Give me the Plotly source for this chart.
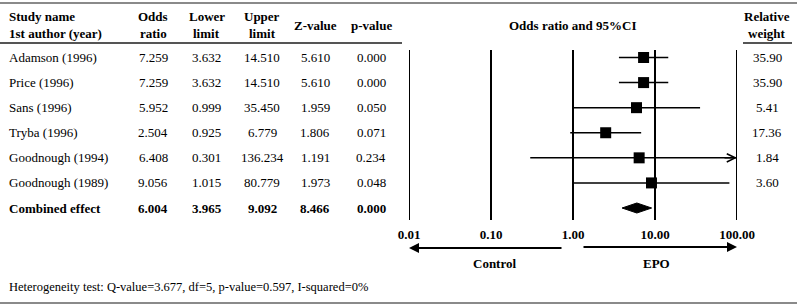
import math
import plotly.graph_objects as go

# ---------------- data ----------------
studies = ["Adamson (1996)", "Price (1996)", "Sans (1996)", "Tryba (1996)",
           "Goodnough (1994)", "Goodnough (1989)"]
odds_ratio = [7.259, 7.259, 5.952, 2.504, 6.408, 9.056]
lower_limit = [3.632, 3.632, 0.999, 0.925, 0.301, 1.015]
upper_limit = [14.510, 14.510, 35.450, 6.779, 136.234, 80.779]
z_value = [5.610, 5.610, 1.959, 1.806, 1.191, 1.973]
p_value = [0.000, 0.000, 0.050, 0.071, 0.234, 0.048]
rel_weight = [35.90, 35.90, 5.41, 17.36, 1.84, 3.60]

combined_label = "Combined effect"
combined = {"or": 6.004, "lo": 3.965, "hi": 9.092, "z": 8.466, "p": 0.000}

tick_vals = [0.01, 0.1, 1, 10, 100]
tick_text = ["0.01", "0.10", "1.00", "10.00", "100.00"]
heterogeneity = "Heterogeneity test: Q-value=3.677, df=5, p-value=0.597, I-squared=0%"

# ---------------- layout helpers ----------------
W, H = 800, 306
FONT = "Liberation Serif"
FS = 13


def px(x):
    return x / W


def py(y):
    return 1 - y / H


n = len(studies)
rows = list(range(n))
comb_row = n

fig = go.Figure()

# CI lines
for i in rows:
    fig.add_trace(go.Scatter(x=[lower_limit[i], upper_limit[i]], y=[i, i], mode="lines",
                             line=dict(color="black", width=1.5), hoverinfo="skip",
                             showlegend=False))
# squares
fig.add_trace(go.Scatter(x=odds_ratio, y=rows, mode="markers",
                         marker=dict(symbol="square", size=11, color="black"),
                         showlegend=False))
# diamond
dh = 0.2
fig.add_trace(go.Scatter(
    x=[combined["lo"], combined["or"], combined["hi"], combined["or"], combined["lo"]],
    y=[comb_row, comb_row - dh, comb_row, comb_row + dh, comb_row],
    mode="lines", fill="toself", fillcolor="black", line=dict(color="black", width=1),
    showlegend=False))

shapes = []
# vertical reference lines at each tick
for v in tick_vals:
    shapes.append(dict(type="line", xref="x", yref="y domain", x0=v, x1=v,
                       y0=0, y1=1, line=dict(color="black", width=2)))
# horizontal rules
rule = "#8a8a8a"
shapes.append(dict(type="line", xref="paper", yref="paper", x0=0, x1=px(797), y0=py(3), y1=py(3),
                   line=dict(color=rule, width=2)))
shapes.append(dict(type="line", xref="paper", yref="paper", x0=0, x1=px(797), y0=py(303), y1=py(303),
                   line=dict(color=rule, width=2)))
shapes.append(dict(type="line", xref="paper", yref="paper", x0=0, x1=px(402), y0=py(43), y1=py(43),
                   line=dict(color="#555555", width=2)))
shapes.append(dict(type="line", xref="paper", yref="paper", x0=px(743), x1=px(792), y0=py(43), y1=py(43),
                   line=dict(color="#555555", width=2)))

ann = []


def txt(text, x, y, xanchor="center", bold=False, yref="paper", size=FS):
    if bold:
        text = "<b>" + text + "</b>"
    ann.append(dict(text=text, x=x, y=y, xref="paper", yref=yref, xanchor=xanchor,
                    yanchor="middle", showarrow=False, borderpad=0,
                    font=dict(family=FONT, size=size, color="black")))


# header
txt("Study name", px(8), py(16), "left", True)
txt("1st author (year)", px(8), py(33), "left", True)
col_x = [153, 207, 262, 315, 371]
txt("Odds", px(col_x[0]), py(16), bold=True)
txt("ratio", px(col_x[0]), py(33), bold=True)
txt("Lower", px(col_x[1]), py(16), bold=True)
txt("limit", px(col_x[1]), py(33), bold=True)
txt("Upper", px(col_x[2]), py(16), bold=True)
txt("limit", px(col_x[2]), py(33), bold=True)
txt("Z-value", px(col_x[3]), py(25), bold=True)
txt("p-value", px(col_x[4]), py(25), bold=True)
txt("Odds ratio and 95%CI", px(573), py(25), bold=True)
txt("Relative", px(767), py(16), bold=True)
txt("weight", px(767), py(33), bold=True)

# rows
for i in rows:
    txt(studies[i], px(8), i, "left", yref="y")
    vals = [odds_ratio[i], lower_limit[i], upper_limit[i], z_value[i], p_value[i]]
    for cx, v in zip(col_x, vals):
        txt(f"{v:.3f}", px(cx), i, yref="y")
    txt(f"{rel_weight[i]:.2f}", px(767), i, yref="y")

txt(combined_label, px(8), comb_row, "left", True, yref="y")
for cx, v in zip(col_x, [combined["or"], combined["lo"], combined["hi"], combined["z"], combined["p"]]):
    txt(f"{v:.3f}", px(cx), comb_row, bold=True, yref="y")

# arrow for CI exceeding the axis
xmax_log = math.log10(tick_vals[-1])
for i in rows:
    if upper_limit[i] > tick_vals[-1]:
        ann.append(dict(x=xmax_log, y=i, xref="x", yref="y",
                        ax=-14, ay=0, axref="pixel", ayref="pixel",
                        showarrow=True, arrowhead=5, arrowsize=1.1, arrowwidth=1.5,
                        arrowcolor="black", text=""))

# direction arrows (pixel offsets along the axis row)
ann.append(dict(x=math.log10(tick_vals[0]), y=py(248), xref="x", yref="paper",
                ax=154, ay=0, axref="pixel", ayref="pixel", showarrow=True,
                arrowhead=2, arrowsize=1, arrowwidth=2, arrowcolor="black", text=""))
ann.append(dict(x=xmax_log, y=py(247), xref="x", yref="paper",
                ax=-155, ay=0, axref="pixel", ayref="pixel", showarrow=True,
                arrowhead=2, arrowsize=1, arrowwidth=2, arrowcolor="black", text=""))
txt("Control", px(494), py(263), bold=True)
txt("EPO", px(656), py(263), bold=True)

txt(heterogeneity, px(8), py(287), "left", size=12.5)

fig.update_layout(
    width=W, height=H, autosize=False,
    margin=dict(l=0, r=0, t=0, b=0, pad=0, autoexpand=False),
    paper_bgcolor="white", plot_bgcolor="white",
    shapes=shapes, annotations=ann, showlegend=False,
    xaxis=dict(type="log", range=[-2, 2], domain=[px(409), px(737)],
               tickvals=tick_vals, ticktext=["<b>" + t + "</b>" for t in tick_text],
               tickfont=dict(family=FONT, size=FS, color="black"),
               showgrid=False, zeroline=False, showline=False, ticks="",
               ticklabelstandoff=5, automargin=False),
    yaxis=dict(range=[6.478, -0.299], domain=[py(220), py(50)], automargin=False,
               showgrid=False, zeroline=False, showline=False, showticklabels=False, ticks=""),
)

fig.write_html(
    "out.html",
    config={"responsive": False, "displayModeBar": False},
    post_script="document.body.style.margin='0';document.body.style.overflow='hidden';",
)
